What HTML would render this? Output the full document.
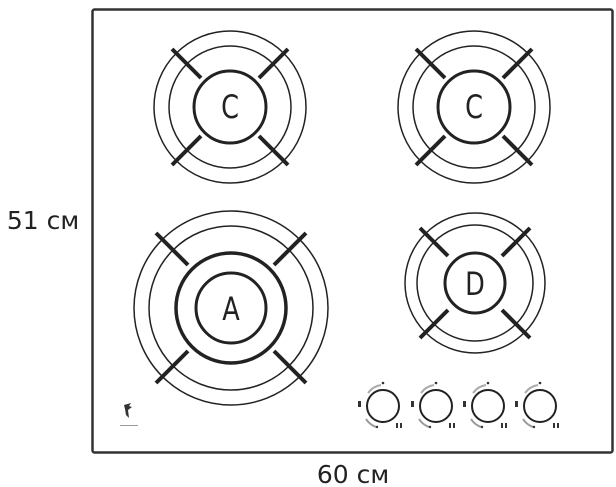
<!DOCTYPE html>
<html><head><meta charset="utf-8"><style>
html,body{margin:0;padding:0;background:#fff;}
svg{display:block;}
text{font-family:"DejaVu Sans","Liberation Sans",sans-serif;}
</style></head><body>
<svg width="616" height="487" viewBox="0 0 616 487" xmlns="http://www.w3.org/2000/svg">
<rect x="92.5" y="9.5" width="520" height="443" rx="2" fill="none" stroke="#333" stroke-width="2.5"/>
<text x="43" y="229" font-size="25" fill="#222" text-anchor="middle">51 см</text>
<text x="353" y="483" font-size="25" fill="#222" text-anchor="middle">60 см</text>

<g fill="none" stroke="#222">
<g transform="translate(230,107)">
<circle r="76" stroke-width="1.5"/><circle r="61" stroke-width="1.5"/><circle r="36" stroke-width="3"/>
<g stroke-width="4"><line x1="-29" y1="-29" x2="-58" y2="-58"/><line x1="29" y1="-29" x2="58" y2="-58"/><line x1="-29" y1="29" x2="-58" y2="58"/><line x1="29" y1="29" x2="58" y2="58"/></g>
</g>
<g transform="translate(474,107)">
<circle r="76" stroke-width="1.5"/><circle r="61" stroke-width="1.5"/><circle r="36" stroke-width="3"/>
<g stroke-width="4"><line x1="-29" y1="-29" x2="-58" y2="-58"/><line x1="29" y1="-29" x2="58" y2="-58"/><line x1="-29" y1="29" x2="-58" y2="58"/><line x1="29" y1="29" x2="58" y2="58"/></g>
</g>
<g transform="translate(231,308)">
<circle r="97" stroke-width="1.5"/><circle r="82" stroke-width="1.5"/><circle r="55" stroke-width="3.5"/><circle r="35" stroke-width="3"/>
<g stroke-width="4"><line x1="-43" y1="-43" x2="-75" y2="-75"/><line x1="43" y1="-43" x2="75" y2="-75"/><line x1="-43" y1="43" x2="-75" y2="75"/><line x1="43" y1="43" x2="75" y2="75"/></g>
</g>
<g transform="translate(475,283)">
<circle r="70" stroke-width="1.5"/><circle r="58" stroke-width="1.5"/><circle r="30" stroke-width="3"/>
<g stroke-width="4"><line x1="-27" y1="-27" x2="-55" y2="-55"/><line x1="27" y1="-27" x2="55" y2="-55"/><line x1="-27" y1="27" x2="-55" y2="55"/><line x1="27" y1="27" x2="55" y2="55"/></g>
</g>
<g transform="translate(0,0)"><circle cx="383" cy="406" r="16" stroke-width="2"/><path d="M368 393 A20 20 0 0 1 381 385" stroke="#aaa" stroke-width="2"/><path d="M366 419 A20 20 0 0 0 376 427" stroke="#999" stroke-width="2"/></g>
<g transform="translate(53,0)"><circle cx="383" cy="406" r="16" stroke-width="2"/><path d="M368 393 A20 20 0 0 1 381 385" stroke="#aaa" stroke-width="2"/><path d="M366 419 A20 20 0 0 0 376 427" stroke="#999" stroke-width="2"/></g>
<g transform="translate(105,0)"><circle cx="383" cy="406" r="16" stroke-width="2"/><path d="M368 393 A20 20 0 0 1 381 385" stroke="#aaa" stroke-width="2"/><path d="M366 419 A20 20 0 0 0 376 427" stroke="#999" stroke-width="2"/></g>
<g transform="translate(157,0)"><circle cx="383" cy="406" r="16" stroke-width="2"/><path d="M368 393 A20 20 0 0 1 381 385" stroke="#aaa" stroke-width="2"/><path d="M366 419 A20 20 0 0 0 376 427" stroke="#999" stroke-width="2"/></g>
</g>
<g fill="#333">
<circle cx="383" cy="383" r="1.3"/><circle cx="436" cy="383" r="1.3"/><circle cx="488" cy="383" r="1.3"/><circle cx="540" cy="383" r="1.3"/>
<rect x="358" y="401" width="3" height="6"/><rect x="411" y="401" width="3" height="6"/><rect x="463" y="401" width="3" height="6"/><rect x="515" y="401" width="3" height="6"/>
<rect x="396" y="423" width="2" height="5"/><rect x="400" y="423" width="2" height="5"/><rect x="449" y="423" width="2" height="5"/><rect x="453" y="423" width="2" height="5"/><rect x="501" y="423" width="2" height="5"/><rect x="505" y="423" width="2" height="5"/><rect x="553" y="423" width="2" height="5"/><rect x="557" y="423" width="2" height="5"/>
<circle cx="377" cy="427" r="1.2"/><circle cx="430" cy="427" r="1.2"/><circle cx="482" cy="427" r="1.2"/><circle cx="534" cy="427" r="1.2"/>
<path d="M124 405 l7 -2 l-2 3 l3 1 l-4 3 l1 8 l-3 -3 l-1 -6 z"/>
<rect x="120" y="425" width="18" height="1" fill="#999"/>
</g>
<g fill="#222" font-family="Liberation Sans" font-size="32" text-anchor="middle">
<text x="0" y="0" transform="translate(230,118) scale(0.8,1)">C</text>
<text x="0" y="0" transform="translate(474,118) scale(0.8,1)">C</text>
<text x="0" y="0" transform="translate(231,320) scale(0.8,1)">A</text>
<text x="0" y="0" transform="translate(475,295) scale(0.8,1)">D</text>
</g>
</svg>
</body></html>
